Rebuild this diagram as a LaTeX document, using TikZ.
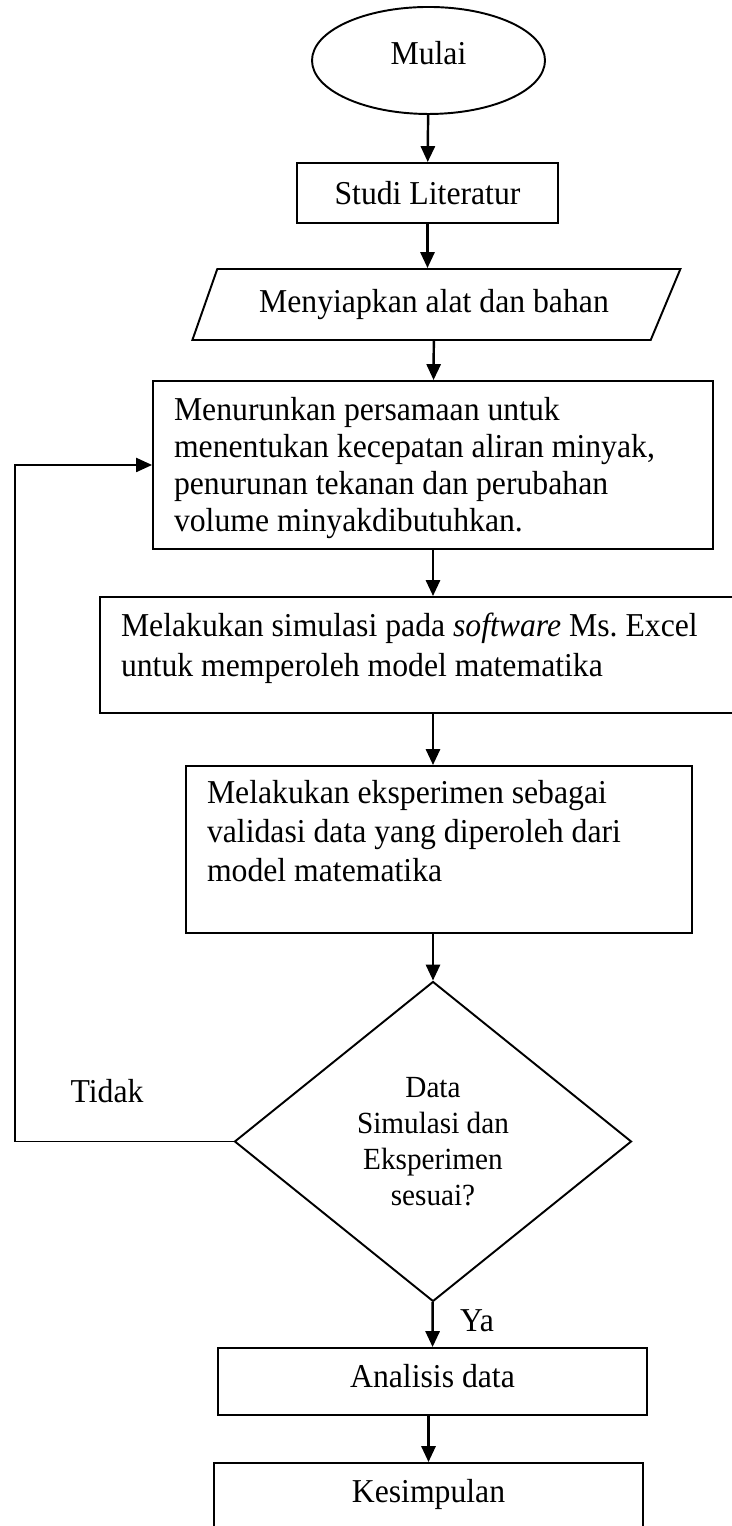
\documentclass[tikz,border=0pt]{standalone}
\usepackage{fontspec}
\setmainfont[FakeStretch=0.95]{Liberation Serif}
\usetikzlibrary{shapes.geometric,arrows.meta}
\tikzset{
	kotak/.style={draw, line width=1.1pt, rectangle, font=\fontsize{19}{21}\selectfont},
	isi/.style={kotak, align=flush left, inner xsep=0.42cm, inner ysep=0pt},
	panah/.style={-{Triangle[length=9pt,width=8pt]}, line width=1.4pt},
}
\begin{document}
\begin{tikzpicture}
		\useasboundingbox (0,0) rectangle (14.64,30.52);
		\clip (0,0) rectangle (14.64,30.52);
		\node[kotak, ellipse, minimum width=4.66cm, minimum height=2.14cm, text depth=0.32cm] (mulai) at (8.57,29.31) {Mulai};
		\node[kotak, minimum width=5.22cm, minimum height=1.2cm] (studi) at (8.55,26.66) {Studi Literatur};
		\node[kotak, trapezium, trapezium left angle=59.4, trapezium right angle=125.2, trapezium stretches body, minimum width=9.76cm, minimum height=1.42cm] (alat) at (8.68,24.43) {Menyiapkan alat dan bahan};
		\node[isi, text width=10.36cm, text height=0.8cm, text depth=2.56cm] (rumus) at (8.66,21.22) {Menurunkan persamaan untuk\\menentukan kecepatan aliran minyak,\\penurunan tekanan dan perubahan\\volume minyakdibutuhkan.};
		\node[isi, font=\fontsize{19}{22.5}\selectfont, text width=12.48cm, text height=0.8cm, text depth=1.52cm] (simulasi) at (8.66,17.42) {Melakukan simulasi pada \textit{software} Ms.\ Excel\\untuk memperoleh model matematika};
		\node[isi, font=\fontsize{19}{22}\selectfont, text width=9.28cm, text height=0.76cm, text depth=2.58cm] (eksperimen) at (8.78,13.53) {Melakukan eksperimen sebagai\\validasi data yang diperoleh dari\\model matematika};
		\node[kotak, diamond, minimum width=7.94cm, minimum height=6.4cm, inner sep=0pt, align=flush center, font=\fontsize{17.5}{20.5}\selectfont] (cek) at (8.66,7.69) {Data\\Simulasi dan\\Eksperimen\\sesuai?};
		\node[kotak, minimum width=8.58cm, minimum height=1.34cm, text depth=0.21cm] (analisis) at (8.65,2.89) {Analisis data};
		\node[kotak, minimum width=8.58cm, minimum height=1.34cm, text depth=0.21cm] (kesimpulan) at (8.57,0.59) {Kesimpulan};
		\node[font=\fontsize{19}{21}\selectfont] (tidak) at (2.14,8.70) {Tidak};
		\node[font=\fontsize{19}{21}\selectfont] (ya) at (9.54,4.10) {Ya};
		\coordinate (balik) at (0.3,7.7);
		\draw[panah] (mulai) -- (studi);
		\draw[panah] (studi) -- (studi |- alat.north);
		\draw[panah] (alat) -- (rumus);
		\draw[panah] (rumus) -- (simulasi);
		\draw[panah] (simulasi) -- (simulasi |- eksperimen.north);
		\draw[panah] (cek.north |- eksperimen.south) -- (cek);
		\draw[panah] (cek) -- (analisis);
		\draw[panah] (analisis.south -| kesimpulan) -- (kesimpulan);
		\draw[panah, line width=0.9pt] (cek.west) -- (cek.west -| balik) |- (rumus.west);
	\end{tikzpicture}
\end{document}
